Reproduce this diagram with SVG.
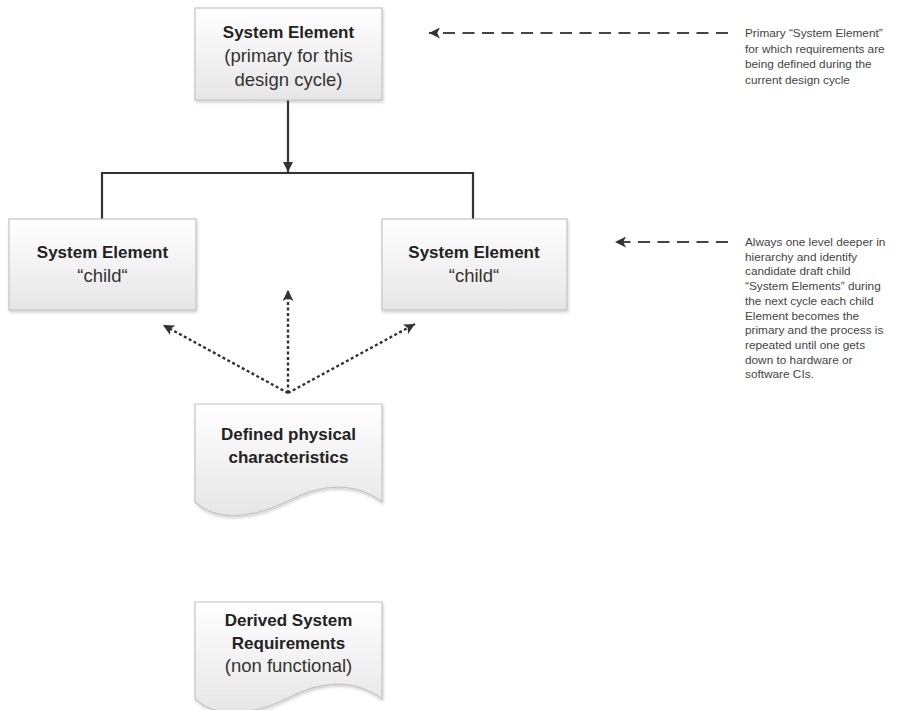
<svg xmlns="http://www.w3.org/2000/svg" width="898" height="710" viewBox="0 0 898 710">
  <style>
    .box { fill: url(#boxFill); stroke: #c4c4c4; stroke-width: 1.2; filter: url(#shade); }
    .t { font-family: "Liberation Sans", Arial, sans-serif; text-anchor: middle; fill: #222; }
    .b { font-weight: bold; font-size: 17px; }
    .r { font-size: 18.5px; fill: #333; }
    .note { font-family: "Liberation Sans", Arial, sans-serif; font-size: 11.8px; fill: #444; }
    .solid { fill: none; stroke: #333; stroke-width: 2.2; }
    .dotted { fill: none; stroke: #333; stroke-width: 2.4; stroke-dasharray: 3 2.5; }
    .dashed { fill: none; stroke: #444; stroke-width: 2; stroke-dasharray: 12 7.5; }
  </style>
  <defs>
    <linearGradient id="boxFill" x1="0" y1="0" x2="0" y2="1">
      <stop offset="0" stop-color="#ffffff"/>
      <stop offset="1" stop-color="#e6e6e6"/>
    </linearGradient>
    <filter id="shade" x="-5%" y="-5%" width="115%" height="120%">
      <feGaussianBlur in="SourceAlpha" stdDeviation="1.5"/>
      <feOffset dx="1" dy="2" result="b"/>
      <feComponentTransfer><feFuncA type="linear" slope="0.18"/></feComponentTransfer>
      <feMerge><feMergeNode/><feMergeNode in="SourceGraphic"/></feMerge>
    </filter>
    <marker id="headSolid" viewBox="0 0 10 10" refX="10" refY="5" markerWidth="10" markerHeight="10" markerUnits="userSpaceOnUse" orient="auto">
      <path d="M0,0 L10,5 L0,10 Z" fill="#333"/>
    </marker>
    <marker id="headDot" viewBox="0 0 10 10" refX="10" refY="5" markerWidth="11" markerHeight="11" markerUnits="userSpaceOnUse" orient="auto">
      <path d="M0,0 L10,5 L0,10 L2.5,5 Z" fill="#333"/>
    </marker>
    <marker id="headDash" viewBox="0 0 10 10" refX="10" refY="5" markerWidth="11" markerHeight="11" markerUnits="userSpaceOnUse" orient="auto">
      <path d="M0,0 L10,5 L0,10 L2.5,5 Z" fill="#333"/>
    </marker>
  </defs>

  <rect width="898" height="710" fill="#ffffff"/>

  <!-- connectors -->
  <g id="connectors">
    <line class="solid" x1="288" y1="100" x2="288" y2="172" marker-end="url(#headSolid)"/>
    <path class="solid" d="M102,219 V173 H473 V219"/>
    <line class="dotted" x1="288" y1="393" x2="163" y2="325" marker-end="url(#headDot)"/>
    <line class="dotted" x1="288" y1="393" x2="288" y2="290" marker-end="url(#headDot)"/>
    <line class="dotted" x1="288" y1="393" x2="415" y2="324" marker-end="url(#headDot)"/>
    <line class="dashed" x1="728" y1="33" x2="429" y2="33" marker-end="url(#headDash)"/>
    <line class="dashed" x1="728" y1="242" x2="615" y2="242" marker-end="url(#headDash)"/>
  </g>

  <!-- primary system element -->
  <g id="primary">
    <rect class="box" x="195" y="8" width="187" height="92"/>
    <text class="t b" x="288.5" y="38">System Element</text>
    <text class="t r" x="288.5" y="62">(primary for this</text>
    <text class="t r" x="288.5" y="86">design cycle)</text>
  </g>

  <!-- child elements -->
  <g id="child-left">
    <rect class="box" x="9" y="219" width="187" height="91"/>
    <text class="t b" x="102.5" y="258">System Element</text>
    <text class="t r" x="102.5" y="282">“child“</text>
  </g>
  <g id="child-right">
    <rect class="box" x="382" y="219" width="185" height="91"/>
    <text class="t b" x="474" y="258">System Element</text>
    <text class="t r" x="474" y="282">“child“</text>
  </g>

  <!-- document shapes -->
  <g id="physical">
    <path class="box" d="M195,404 H382 V502 C352,480 320,485 290,500 S220,525 195,502 Z"/>
    <text class="t b" x="288.5" y="440">Defined physical</text>
    <text class="t b" x="288.5" y="463">characteristics</text>
  </g>
  <g id="derived">
    <path class="box" d="M195,602 H382 V699 C352,677 320,682 290,697 S220,722 195,699 Z"/>
    <text class="t b" x="288.5" y="626">Derived System</text>
    <text class="t b" x="288.5" y="649">Requirements</text>
    <text class="t r" x="288.5" y="672">(non functional)</text>
  </g>

  <!-- side notes -->
  <g id="note-primary">
    <text class="note" x="745" y="37">Primary “System Element”</text>
    <text class="note" x="745" y="52.5">for which requirements are</text>
    <text class="note" x="745" y="68">being defined during the</text>
    <text class="note" x="745" y="83.5">current design cycle</text>
  </g>
  <g id="note-child">
    <text class="note" x="745" y="246">Always one level deeper in</text>
    <text class="note" x="745" y="260.7">hierarchy and identify</text>
    <text class="note" x="745" y="275.4">candidate draft child</text>
    <text class="note" x="745" y="290.1">“System Elements” during</text>
    <text class="note" x="745" y="304.8">the next cycle each child</text>
    <text class="note" x="745" y="319.5">Element becomes the</text>
    <text class="note" x="745" y="334.2">primary and the process is</text>
    <text class="note" x="745" y="348.9">repeated until one gets</text>
    <text class="note" x="745" y="363.6">down to hardware or</text>
    <text class="note" x="745" y="378.3">software CIs.</text>
  </g>
</svg>
